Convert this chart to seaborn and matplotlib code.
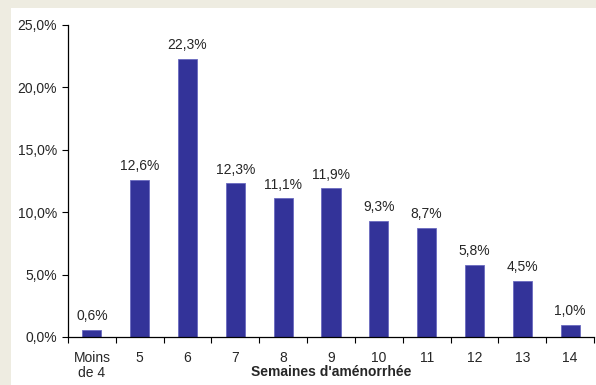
import numpy as np
import pandas as pd
import matplotlib
matplotlib.use("Agg")
import matplotlib.pyplot as plt
import seaborn as sns
from matplotlib.patches import Rectangle

# data
semaines = ["Moins\nde 4", "5", "6", "7", "8", "9", "10", "11", "12", "13", "14"]
pourcentages = [0.6, 12.6, 22.3, 12.3, 11.1, 11.9, 9.3, 8.7, 5.8, 4.5, 1.0]
y_ticks = [0, 5, 10, 15, 20, 25]

df = pd.DataFrame({"semaine": semaines, "pct": pourcentages})

sns.set_style("white")
plt.rcParams["font.family"] = ["Liberation Sans", "DejaVu Sans"]

fig = plt.figure(figsize=(5.96, 3.85), dpi=100)
fig.patch.set_facecolor("#eeece1")
# white panel inside the beige frame
fig.patches.append(Rectangle((11 / 596, 0), 1, 1 - 8 / 385, transform=fig.transFigure,
                             facecolor="white", edgecolor="none", zorder=-5))

ax = fig.add_axes([68 / 596, 1 - 337 / 385, (594 - 68) / 596, (337 - 25) / 385])
ax.set_facecolor("none")

sns.barplot(data=df, x="semaine", y="pct", order=semaines, color="#333399",
            width=0.4, saturation=1, edgecolor="#6a6ac0", linewidth=0.6, ax=ax)

for i, v in enumerate(pourcentages):
    ax.annotate(f"{v:.1f}%".replace(".", ","), (i, v), xytext=(0, 5),
                textcoords="offset points", ha="center", va="bottom", fontsize=10)

ax.set_xlim(-0.5, len(semaines) - 0.5)
ax.set_ylim(0, 25)
ax.set_yticks(y_ticks)
ax.set_yticklabels([f"{t:.1f}%".replace(".", ",") for t in y_ticks], fontsize=10)
ax.set_xticks(range(len(semaines)))
ax.set_xticklabels(semaines, fontsize=10, linespacing=1.1)
ax.set_xticks(np.arange(-0.5, len(semaines)), minor=True)
ax.tick_params(axis="x", which="major", bottom=True, length=0, pad=10)
ax.tick_params(axis="x", which="minor", bottom=True, length=4, width=0.8,
               direction="out", color="black")
ax.tick_params(axis="y", left=True, length=4, width=0.8, direction="out",
               color="black", pad=4)

for s in ["top", "right"]:
    ax.spines[s].set_visible(False)
for s in ["left", "bottom"]:
    ax.spines[s].set_color("black")
    ax.spines[s].set_linewidth(0.9)

ax.set_ylabel("")
ax.set_xlabel("Semaines d'aménorrhée", fontsize=10, fontweight="bold", labelpad=-11)

fig.savefig("out.png", dpi=100, facecolor=fig.get_facecolor())
